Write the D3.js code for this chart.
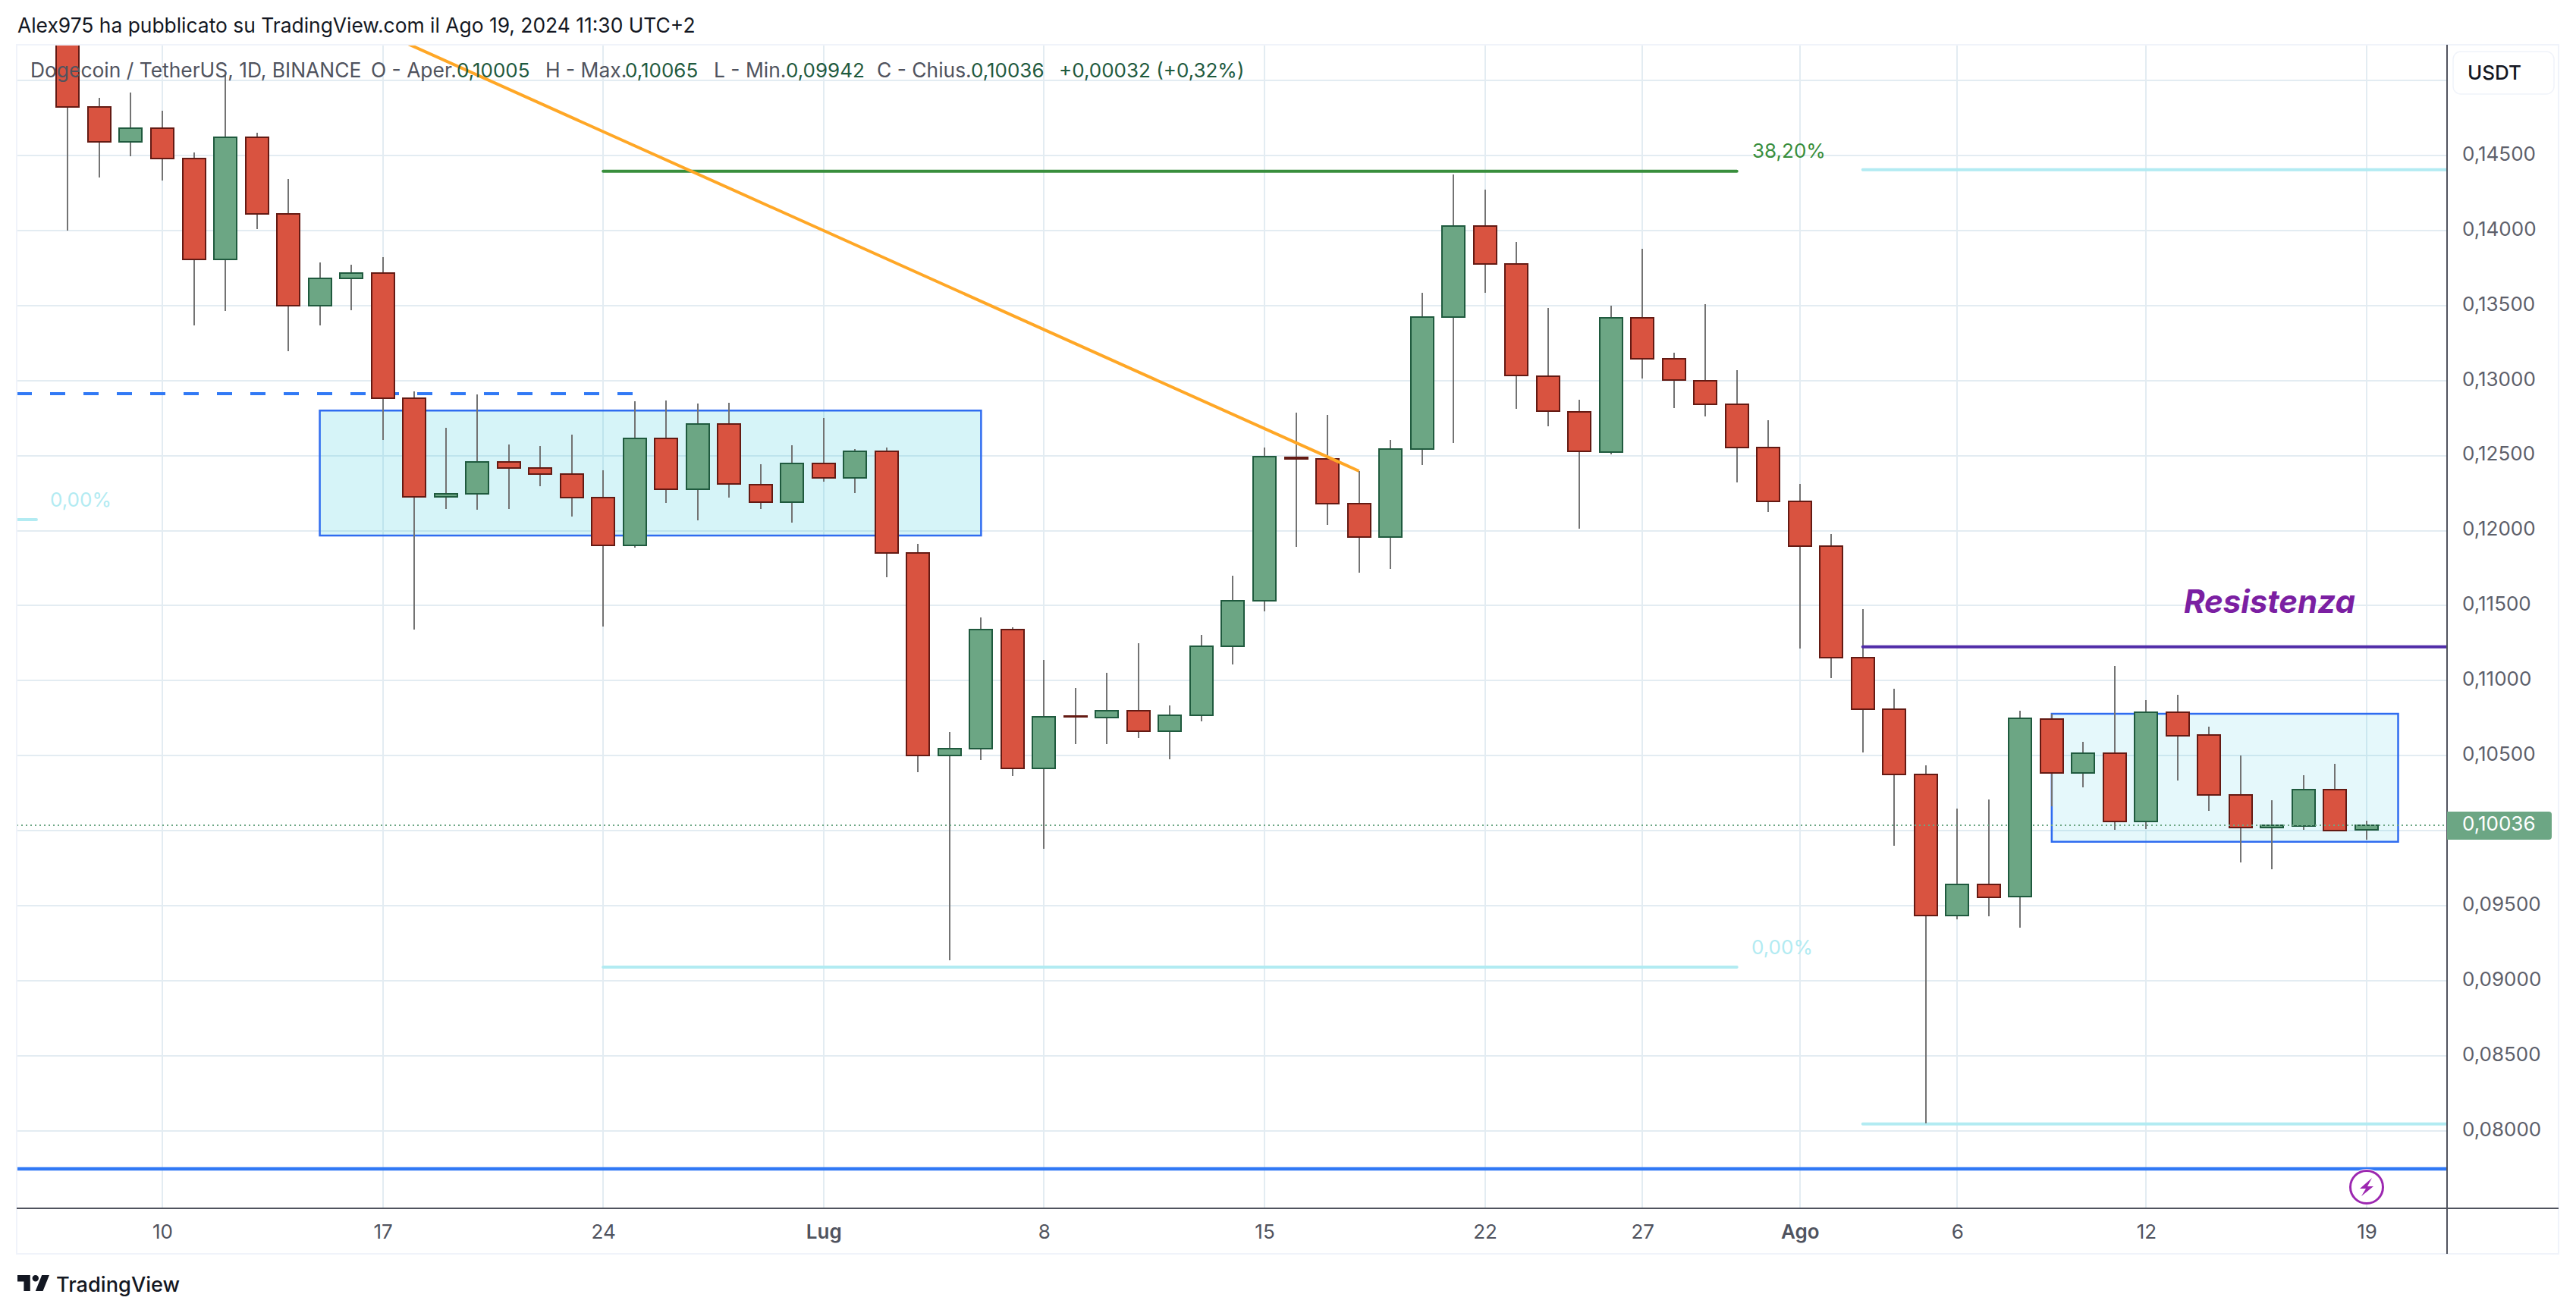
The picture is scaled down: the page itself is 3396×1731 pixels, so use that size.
<!DOCTYPE html>
<html>
<head>
<meta charset="utf-8">
<title>Dogecoin / TetherUS</title>
<script src="https://cdnjs.cloudflare.com/ajax/libs/d3/7.8.5/d3.min.js"></script>
<style>
  html, body { margin: 0; padding: 0; background: #fff; }
  svg { display: block; }
  text { font-family: Inter, "Noto Sans", sans-serif; }
</style>
</head>
<body>
<script>
// Daily candles, Jun 7 -> Aug 19 2024
const FIRST_DAY = '2024-06-07'
const opens = [
  .15600, .14822, .14591, .14680, .14479, .13808, .14621, .14110, .13499, .13680, .13716, .12881,
  .12227, .12245, .12456, .12418, .12376, .12219, .11902, .12613, .12276, .12709, .12307, .12191,
  .12446, .12351, .12529, .11850, .10501, .10548, .11342, .10415, .10763, .10755, .10800, .10664,
  .10770, .11230, .11533, .12490, .12478, .12179, .11957, .12544, .13422, .14028, .13775, .13027,
  .12790, .12525, .13416, .13145, .13001, .12843, .12552, .12193, .11895, .11153, .10810, .10375,
  .09436, .09641, .09562, .10743, .10386, .10517, .10059, .10790, .10637, .10237, .10020, .10032,
  .10273, .10005
]
const highs = [
  .15800, .14882, .14920, .14798, .14520, .15041, .14652, .14344, .13789, .13772, .13824, .12930,
  .12683, .12905, .12575, .12562, .12642, .12400, .12863, .12869, .12848, .12853, .12443, .12567,
  .12753, .12546, .12556, .11914, .10656, .11419, .11353, .11140, .10953, .11054, .11247, .10834,
  .11303, .11701, .12556, .12788, .12772, .12399, .12606, .13586, .14374, .14272, .13924, .13485,
  .12873, .13499, .13878, .13186, .13510, .13071, .12737, .12313, .11979, .11478, .10944, .10433,
  .10149, .10210, .10801, .10781, .10594, .11099, .10871, .10903, .10695, .10499, .10205, .10372,
  .10447, .10065
]
const lows = [
  .14000, .14355, .14497, .14331, .13368, .13462, .14011, .13195, .13366, .13471, .12603, .11340,
  .12144, .12139, .12144, .12294, .12093, .11361, .11887, .12186, .12067, .12219, .12144, .12054,
  .12325, .12248, .11688, .10389, .09136, .10471, .10363, .09878, .10579, .10576, .10615, .10478,
  .10731, .11110, .11460, .11893, .12036, .11719, .11744, .12436, .12583, .13586, .12809, .12693,
  .12013, .12507, .13016, .12816, .12759, .12322, .12123, .11214, .11018, .10519, .09901, .08047,
  .09409, .09429, .09354, .10163, .10291, .10005, .10009, .10336, .10133, .09790, .09745, .10005,
  .10002, .09942
]
const closes = [
  .14822, .14591, .14680, .14479, .13808, .14621, .14110, .13499, .13680, .13716, .12884, .12227,
  .12245, .12456, .12418, .12376, .12222, .11902, .12613, .12276, .12709, .12309, .12191, .12446,
  .12351, .12529, .11850, .10501, .10548, .11342, .10415, .10761, .10758, .10800, .10664, .10770,
  .11230, .11533, .12492, .12476, .12181, .11957, .12544, .13422, .14028, .13777, .13033, .12797,
  .12529, .13416, .13145, .13004, .12843, .12554, .12195, .11895, .11155, .10810, .10377, .09436,
  .09641, .09558, .10749, .10386, .10517, .10059, .10790, .10634, .10239, .10023, .10034, .10273,
  .10002, .10036
]

// Axis ticks (0,10000 sits under the last price tag, so it gets no label)
const priceTicks = [.145, .14, .135, .13, .125, .12, .115, .11, .105, .095, .09, .085, .08]
const gridPrices = [.15, .10].concat(priceTicks)
const tickDates = ['2024-06-10', '2024-06-17', '2024-06-24', '2024-07-01', '2024-07-08', '2024-07-15',
  '2024-07-22', '2024-07-27', '2024-08-01', '2024-08-06', '2024-08-12', '2024-08-19']
const tickLabels = ['10', '17', '24', 'Lug', '8', '15', '22', '27', 'Ago', '6', '12', '19']
const boldLabels = ['Lug', 'Ago']
const lastPrice = .10036

// Drawings on the chart: [start date, end date, price, price]
const boxes = [
  ['2024-06-15', '2024-07-06', .12800, .11967],
  ['2024-08-09', '2024-08-20', .10779, .09926]
]
const boxOpacity = [.16, .10]
const fibTop = ['2024-06-24', '2024-07-30', .14395]
const fibBottom = ['2024-06-24', '2024-07-30', .09091]
const fibLeft = ['2024-05-20', '2024-06-06', .12073]
const rightTop = ['2024-08-03', '2024-09-30', .14405]
const rightBottom = ['2024-08-03', '2024-09-30', .08045]
const resistance = ['2024-08-03', '2024-09-30', .11225]
const dashed = ['2024-05-20', '2024-06-25', .12913]
const support = ['2024-05-20', '2024-09-30', .07746]
const trend = [['2024-06-17', .15319], ['2024-07-18', .12397]]

// Legend pieces
const legendGrey = [
  ['Dogecoin / TetherUS, 1D, BINANCE', 40], ['O - Aper.', 489], ['H - Max.', 719], ['L - Min.', 941], ['C - Chius.', 1156]
]
const legendGreen = [
  ['0,10005', 602], ['0,10065', 824], ['0,09942', 1036], ['0,10036', 1280], ['+0,00032 (+0,32%)', 1396]
]

// Initialization
const width = 3396
const height = 1731
const left = 22
const top_ = 59
const plotRight = 3226
const axisY = 1593
const frameRight = 3373
const frameBottom = 1653
const bodyWidth = 30

const day = d => new Date(d + 'T00:00:00Z')
const x = d3.scaleUtc().domain([day('2024-06-10'), day('2024-08-19')]).range([214, 3120])
const y = d3.scaleLinear().domain([.145, .08]).range([205, 1490.7])
const fmt = v => d3.format('.5f')(v).replace('.', ',')

const candles = opens.map((o, i) => ({
  date: d3.utcDay.offset(day(FIRST_DAY), i),
  open: o, high: highs[i], low: lows[i], close: closes[i]
}))

const svg = d3.select('body').append('svg')
  .attr('width', width)
  .attr('height', height)
  .attr('viewBox', [0, 0, width, height])

svg.append('defs').append('clipPath').attr('id', 'plot')
  .append('rect')
  .attr('x', left).attr('y', top_)
  .attr('width', plotRight - left).attr('height', axisY - top_)

// Header
svg.append('text')
  .attr('x', 23).attr('y', 43)
  .attr('fill', '#131722')
  .style('font-size', '26.4px')
  .text('Alex975 ha pubblicato su TradingView.com il Ago 19, 2024 11:30 UTC+2')

// Grid
const grid = svg.append('g').attr('clip-path', 'url(#plot)').style('shape-rendering', 'crispEdges')
grid.selectAll('.h').data(gridPrices).enter().append('line')
  .attr('x1', left).attr('x2', plotRight)
  .attr('y1', d => y(d)).attr('y2', d => y(d))
  .attr('stroke', '#e3ecf2').attr('stroke-width', 2)
grid.selectAll('.v').data(tickDates).enter().append('line')
  .attr('x1', d => x(day(d))).attr('x2', d => x(day(d)))
  .attr('y1', top_).attr('y2', axisY)
  .attr('stroke', '#e3ecf2').attr('stroke-width', 2)

const plot = svg.append('g').attr('clip-path', 'url(#plot)')

function hline(g, seg, color, w) {
  return g.append('line')
    .attr('x1', x(day(seg[0]))).attr('x2', x(day(seg[1])))
    .attr('y1', y(seg[2])).attr('y2', y(seg[2]))
    .attr('stroke', color).attr('stroke-width', w)
    .attr('stroke-linecap', 'round')
}

// Boxes and levels, under the candles
plot.selectAll('.box').data(boxes).enter().append('rect')
  .attr('x', d => x(day(d[0])))
  .attr('width', d => x(day(d[1])) - x(day(d[0])))
  .attr('y', d => y(d[2]))
  .attr('height', d => y(d[3]) - y(d[2]))
  .attr('fill', '#00bcd4')
  .attr('fill-opacity', (_, i) => boxOpacity[i])
  .attr('stroke', '#2f6cf0')
  .attr('stroke-width', 2.5)

// first dash starts right on the frame edge
const dashPhase = (44 - ((left - x(day(dashed[0]))) % 44)) % 44
hline(plot, dashed, '#3179f5', 4)
  .attr('stroke-linecap', 'butt')
  .attr('stroke-dasharray', '20 24')
  .attr('stroke-dashoffset', dashPhase)
hline(plot, fibTop, '#388e3c', 4)
hline(plot, fibBottom, '#b2ebf2', 4)
hline(plot, fibLeft, '#b2ebf2', 4)
hline(plot, rightTop, '#b2ebf2', 4)
hline(plot, rightBottom, '#b2ebf2', 4)
hline(plot, support, '#3179f5', 4.5)

// Candles
const candle = plot.append('g').style('shape-rendering', 'crispEdges')
candle.selectAll('.wick').data(candles).enter().append('line')
  .attr('x1', d => x(d.date)).attr('x2', d => x(d.date))
  .attr('y1', d => y(d.high)).attr('y2', d => y(d.low))
  .attr('stroke', '#737373').attr('stroke-width', 2)
candle.selectAll('.body').data(candles).enter().append('rect')
  .attr('x', d => x(d.date) - bodyWidth / 2)
  .attr('width', bodyWidth)
  .attr('y', d => y(Math.max(d.open, d.close)))
  .attr('height', d => Math.max(Math.abs(y(d.open) - y(d.close)), .2))
  .attr('fill', d => d.close >= d.open ? '#6ca684' : '#d95340')
  .attr('stroke', d => d.close >= d.open ? '#1f5a3e' : '#641a13')
  .attr('stroke-width', 2)

// Lines over the candles
plot.append('path')
  .datum(trend)
  .attr('d', d3.line().x(d => x(day(d[0]))).y(d => y(d[1])))
  .attr('fill', 'none')
  .attr('stroke', '#ffa726')
  .attr('stroke-width', 4)
hline(plot, resistance, '#512da8', 4)
plot.append('line')
  .attr('x1', left).attr('x2', plotRight)
  .attr('y1', y(lastPrice)).attr('y2', y(lastPrice))
  .attr('stroke', '#6ca684').attr('stroke-width', 2)
  .attr('stroke-dasharray', '2 4')

// Drawing labels
const labels = [
  ['38,20%', 2310, 208, '#388e3c'],
  ['0,00%', 2309, 1258, '#b2ebf2'],
  ['0,00%', 66, 668, '#b2ebf2']
]
svg.selectAll('.fib').data(labels).enter().append('text')
  .attr('x', d => d[1]).attr('y', d => d[2])
  .attr('fill', d => d[3])
  .style('font-size', '26px')
  .text(d => d[0])
svg.append('text')
  .attr('x', 2879).attr('y', 808)
  .attr('fill', '#7b1fa2')
  .style('font-size', '42px').style('font-weight', 700).style('font-style', 'italic')
  .text('Resistenza')

// Alert icon
const bolt = svg.append('g').attr('transform', `translate(${x(day('2024-08-19'))},1565)`)
bolt.append('circle').attr('r', 24).attr('fill', '#fff')
bolt.append('circle').attr('r', 21.5).attr('fill', '#fff').attr('stroke', '#9c27b0').attr('stroke-width', 3)
bolt.append('path').attr('d', 'M7-12L-9 2H-1L-7 12L9-1H1Z').attr('fill', '#9c27b0')

// Frame and axis lines
const frame = svg.append('g').style('shape-rendering', 'crispEdges')
frame.append('rect')
  .attr('x', left).attr('y', top_)
  .attr('width', frameRight - left).attr('height', frameBottom - top_)
  .attr('fill', 'none').attr('stroke', '#f0f3fa').attr('stroke-width', 2)
frame.append('line').attr('x1', plotRight).attr('x2', plotRight).attr('y1', top_).attr('y2', frameBottom)
  .attr('stroke', '#50535e').attr('stroke-width', 2)
frame.append('line').attr('x1', left).attr('x2', frameRight).attr('y1', axisY).attr('y2', axisY)
  .attr('stroke', '#50535e').attr('stroke-width', 2)

// Price axis
const yAxis = svg.append('g')
  .attr('transform', `translate(${plotRight},-2)`)
  .call(d3.axisRight(y).tickValues(priceTicks).tickSize(0).tickPadding(20).tickFormat(fmt))
yAxis.select('.domain').remove()
yAxis.selectAll('text')
  .attr('fill', '#5d606b')
  .style('font-size', '26px')
  .style('font-family', 'Inter')

// Time axis
const xAxis = svg.append('g')
  .attr('transform', `translate(0,${axisY})`)
  .call(d3.axisBottom(x).tickValues(tickDates.map(day)).tickSize(0).tickPadding(22)
    .tickFormat((_, i) => tickLabels[i]))
xAxis.select('.domain').remove()
xAxis.selectAll('text')
  .attr('fill', '#50535e')
  .style('font-size', '26px')
  .style('font-family', 'Inter')
  .style('font-weight', (_, i) => boldLabels.includes(tickLabels[i]) ? 600 : 400)

// Last price tag
svg.append('path')
  .attr('d', `M${plotRight},1070H3360a4,4 0 0 1 4,4V1103a4,4 0 0 1 -4,4H${plotRight}Z`)
  .attr('fill', '#6ca684')
svg.append('text')
  .attr('x', plotRight + 20).attr('y', y(lastPrice) - 2)
  .attr('dy', '.35em')
  .attr('fill', '#fff')
  .style('font-size', '26px')
  .text(fmt(lastPrice))

// Currency button
svg.append('rect')
  .attr('x', 3234).attr('y', 68).attr('width', 133).attr('height', 56).attr('rx', 10)
  .attr('fill', '#fff').attr('stroke', '#f0f3fa').attr('stroke-width', 1.5)
svg.append('text')
  .attr('x', 3253).attr('y', 105)
  .attr('fill', '#131722')
  .style('font-size', '26px').style('font-weight', 500)
  .text('USDT')

// Legend
svg.selectAll('.lg').data(legendGrey).enter().append('text')
  .attr('x', d => d[1]).attr('y', 102)
  .attr('fill', '#50535e')
  .style('font-size', '26.4px')
  .text(d => d[0])
svg.selectAll('.lv').data(legendGreen).enter().append('text')
  .attr('x', d => d[1]).attr('y', 102)
  .attr('fill', '#1f5a3e')
  .style('font-size', '26px')
  .text(d => d[0])

// Logo
svg.append('path')
  .attr('transform', 'translate(20.2,1672.6) scale(1.4)')
  .attr('d', 'M14 6H2v6h6v9h6V6Zm12 15h-7l6-15h7l-6 15Zm-7-9a3 3 0 1 0 0-6 3 3 0 0 0 0 6Z')
  .attr('fill', '#131722')
svg.append('text')
  .attr('x', 74).attr('y', 1703)
  .attr('fill', '#131722')
  .style('font-size', '27.2px').style('font-weight', 500)
  .text('TradingView')
</script>
</body>
</html>
